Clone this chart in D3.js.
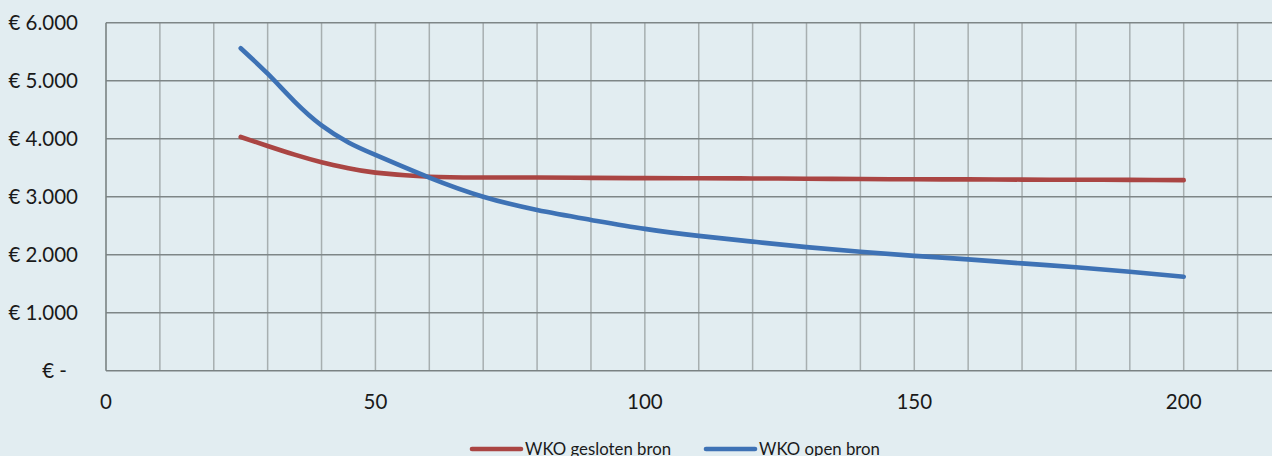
<!DOCTYPE html>
<html>
<head>
<meta charset="utf-8">
<script src="https://cdn.jsdelivr.net/npm/d3@7"></script>
<style>
  html, body { margin: 0; padding: 0; background: #e2edf1; }
  svg { display: block; }
  text { font-family: Lato, "Open Sans", "Liberation Sans", sans-serif; fill: #1a1a1a; }
</style>
</head>
<body>
<svg id="chart" width="1272" height="456"></svg>
<script>
// Jaarkosten per vermogen (kW) voor twee WKO-varianten
const capacity = [25, 30, 35, 40, 45, 50, 60, 70, 80, 90, 100, 110, 120, 130, 140, 150, 160, 170, 180, 190, 200];
const geslotenBron = [4030, 3875, 3725, 3595, 3490, 3415, 3345, 3332, 3330, 3325, 3320, 3318, 3315, 3310, 3305, 3300, 3298, 3295, 3292, 3290, 3285];
const openBron = [5560, 5120, 4640, 4230, 3935, 3720, 3330, 3000, 2770, 2600, 2445, 2325, 2225, 2130, 2050, 1980, 1920, 1850, 1785, 1707, 1621];

const seriesNames = ["WKO gesloten bron", "WKO open bron"];
const seriesColors = ["#aa4543", "#3e72b5"];

const xTicks = [0, 50, 100, 150, 200];
const xGrid = d3.range(10, 230, 10);
const yTicks = [0, 1000, 2000, 3000, 4000, 5000, 6000];

const svg = d3.select("#chart");

const x = d3.scaleLinear().domain([0, 220]).range([106, 106 + 220 * (1183.7 - 106) / 200]);
const y = d3.scaleLinear().domain([0, 6000]).range([370.7, 22.7]);

const fmtY = v => v === 0 ? "€ -" : "€ " + d3.format(",")(v).replace(/,/g, ".");

// vertical gridlines
svg.append("g")
  .selectAll("line")
  .data(xGrid)
  .join("line")
  .attr("x1", d => x(d)).attr("x2", d => x(d))
  .attr("y1", y(6000)).attr("y2", y(0))
  .attr("stroke", "#a7afb0")
  .attr("stroke-width", 1.5);

// horizontal gridlines
svg.append("g")
  .selectAll("line")
  .data(yTicks.filter(d => d > 0))
  .join("line")
  .attr("x1", x(0)).attr("x2", 1272)
  .attr("y1", d => y(d)).attr("y2", d => y(d))
  .attr("stroke", "#7e8687")
  .attr("stroke-width", 1.5);

// axes lines
svg.append("line")
  .attr("x1", x(0)).attr("x2", x(0))
  .attr("y1", y(6000)).attr("y2", y(0))
  .attr("stroke", "#7a8283").attr("stroke-width", 1.6);
svg.append("line")
  .attr("x1", x(0)).attr("x2", 1272)
  .attr("y1", y(0)).attr("y2", y(0))
  .attr("stroke", "#7a8283").attr("stroke-width", 1.6);

// y tick labels
svg.append("g")
  .selectAll("text")
  .data(yTicks)
  .join("text")
  .attr("x", d => d === 0 ? 67 : 78)
  .attr("y", d => y(d) + 7.5)
  .attr("text-anchor", "end")
  .style("font-size", "20.5px")
  .text(fmtY);

// x tick labels
svg.append("g")
  .selectAll("text")
  .data(xTicks)
  .join("text")
  .attr("x", d => x(d))
  .attr("y", 408.5)
  .attr("text-anchor", "middle")
  .style("font-size", "20.5px")
  .text(d => d);

// series lines (smoothed)
const line = d3.line()
  .x(d => x(d[0]))
  .y(d => y(d[1]))
  .curve(d3.curveNatural);

const series = [geslotenBron, openBron];
series.forEach((vals, i) => {
  svg.append("path")
    .datum(capacity.map((c, j) => [c, vals[j]]))
    .attr("d", line)
    .attr("fill", "none")
    .attr("stroke", seriesColors[i])
    .attr("stroke-width", 4.6)
    .attr("stroke-linecap", "round")
    .attr("stroke-linejoin", "round");
});

// legend
const legendItems = [
  { name: seriesNames[0], color: seriesColors[0], x0: 472, x1: 521, tx: 525 },
  { name: seriesNames[1], color: seriesColors[1], x0: 706, x1: 755, tx: 759 }
];
const lg = svg.append("g");
legendItems.forEach(it => {
  lg.append("line")
    .attr("x1", it.x0).attr("x2", it.x1)
    .attr("y1", 449).attr("y2", 449)
    .attr("stroke", it.color)
    .attr("stroke-width", 4.6)
    .attr("stroke-linecap", "round");
  lg.append("text")
    .attr("x", it.tx).attr("y", 455)
    .style("font-size", "16.8px")
    .text(it.name);
});
</script>
</body>
</html>
